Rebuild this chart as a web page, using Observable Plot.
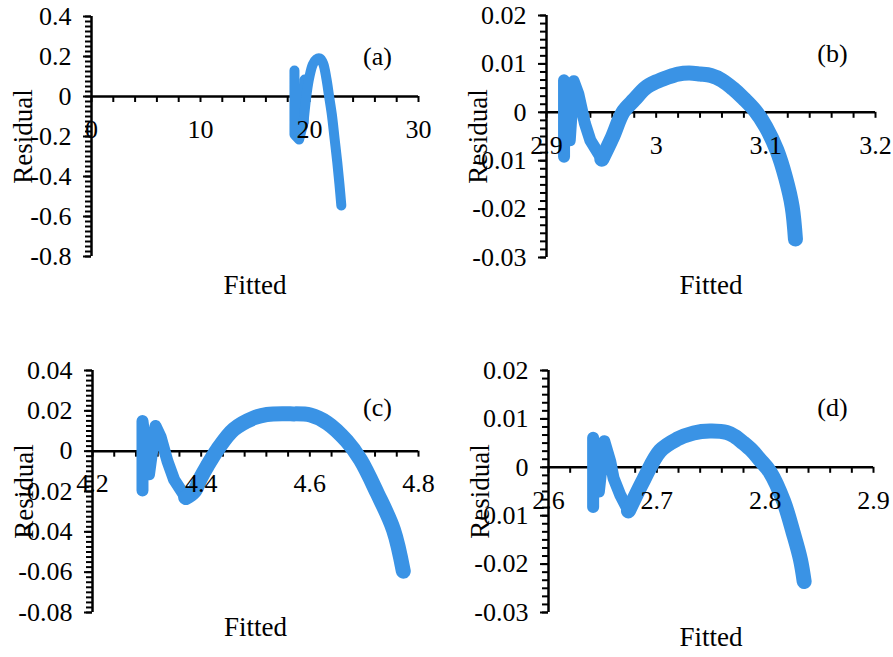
<!DOCTYPE html>
<html>
<head>
<meta charset="utf-8">
<script src="https://cdn.jsdelivr.net/npm/d3@7"></script>
<script src="https://cdn.jsdelivr.net/npm/@observablehq/plot@0.6"></script>
<style>
  html, body { margin: 0; padding: 0; background: #fff; }
  #wrap { position: relative; width: 893px; height: 657px; overflow: hidden; background: #fff; }
  #wrap svg { position: absolute; }
</style>
</head>
<body>
<div id="wrap"></div>
<script>
// ---------- data ----------
// Panel (a)
const aTicksX = [0, 10, 20, 30];
const aLabelsX = ["0", "10", "20", "30"];
const aTicksY = [0.4, 0.2, 0, -0.2, -0.4, -0.6, -0.8];
const aLabelsY = ["0.4", "0.2", "0", "-0.2", "-0.4", "-0.6", "-0.8"];
const aSpikeX = [18.62, 18.62, 19.05, 19.45, 19.55];
const aSpikeY = [0.13, -0.19, -0.215, -0.13, 0.085];
const aCurveX = [19.45, 19.75, 20.0, 20.3, 20.6, 20.95, 21.25, 21.55, 21.8, 22.05, 22.3, 22.55, 22.75, 22.92];
const aCurveY = [-0.13, 0.02, 0.10, 0.16, 0.185, 0.19, 0.165, 0.09, 0.0, -0.09, -0.21, -0.33, -0.44, -0.545];

// Panel (b): spikes + straight drop to the minimum, then the smooth hump
const bTicksX = [2.9, 3.0, 3.1, 3.2];
const bLabelsX = ["2.9", "3", "3.1", "3.2"];
const bTicksY = [0.02, 0.01, 0, -0.01, -0.02, -0.03];
const bLabelsY = ["0.02", "0.01", "0", "-0.01", "-0.02", "-0.03"];
const bSpikeX = [2.916, 2.916, 2.9212, 2.9248, 2.929, 2.935, 2.940, 2.9505];
const bSpikeY = [-0.0092, 0.0066, -0.0058, 0.0064, 0.0038, -0.0023, -0.0058, -0.0097];
const bCurveX = [2.9505, 2.960, 2.970, 2.980, 2.990, 3.000, 3.010, 3.020, 3.030, 3.040, 3.050, 3.060, 3.070, 3.080, 3.090, 3.100, 3.110, 3.118, 3.124, 3.127];
const bCurveY = [-0.0097, -0.0052, 0.0001, 0.0026, 0.0050, 0.0063, 0.0072, 0.0079, 0.0081, 0.0079, 0.0076, 0.0066, 0.0049, 0.0028, 0.0004, -0.0030, -0.0078, -0.0135, -0.0195, -0.0262];

// Panel (c)
const cTicksX = [4.2, 4.4, 4.6, 4.8];
const cLabelsX = ["4.2", "4.4", "4.6", "4.8"];
const cTicksY = [0.04, 0.02, 0, -0.02, -0.04, -0.06, -0.08];
const cLabelsY = ["0.04", "0.02", "0", "-0.02", "-0.04", "-0.06", "-0.08"];
const cSpikeX = [4.292, 4.292, 4.304, 4.316, 4.3255, 4.338, 4.350, 4.3715];
const cSpikeY = [-0.0195, 0.0150, -0.0115, 0.0125, 0.0070, -0.0050, -0.0140, -0.0230];
const cCurveX = [4.3715, 4.387, 4.399, 4.411, 4.430, 4.460, 4.497, 4.521, 4.564, 4.601, 4.632, 4.668, 4.693, 4.724, 4.754, 4.772];
const cCurveY = [-0.0230, -0.0200, -0.0133, -0.0075, 0.0008, 0.0108, 0.0165, 0.0182, 0.0185, 0.0179, 0.0140, 0.0050, -0.0042, -0.0208, -0.0390, -0.0595];

// Panel (d)
const dTicksX = [2.6, 2.7, 2.8, 2.9];
const dLabelsX = ["2.6", "2.7", "2.8", "2.9"];
const dTicksY = [0.02, 0.01, 0, -0.01, -0.02, -0.03];
const dLabelsY = ["0.02", "0.01", "0", "-0.01", "-0.02", "-0.03"];
const dSpikeX = [2.6412, 2.6412, 2.6465, 2.6515, 2.657, 2.660, 2.666, 2.6738];
const dSpikeY = [-0.0082, 0.0061, -0.0050, 0.0054, 0.0012, -0.0022, -0.0056, -0.0090];
const dCurveX = [2.6738, 2.688, 2.703, 2.7185, 2.734, 2.749, 2.7646, 2.772, 2.780, 2.788, 2.795, 2.8046, 2.817, 2.826, 2.8325, 2.836];
const dCurveY = [-0.0090, -0.0025, 0.0034, 0.0058, 0.0071, 0.0075, 0.0072, 0.0064, 0.0050, 0.0034, 0.0016, -0.0010, -0.0070, -0.0136, -0.0190, -0.0236];

const xTitle = "Fitted";
const yTitle = "Residual";
const tags = ["(a)", "(b)", "(c)", "(d)"];

// ---------- layout / style ----------
const BLUE = "#3a93e5";
const FONT = "'Liberation Serif', 'Times New Roman', serif";

const panels = [
  {tag: tags[0], tx: aTicksX, lx: aLabelsX, ty: aTicksY, ly: aLabelsY, sx: aSpikeX, sy: aSpikeY, cx: aCurveX, cy: aCurveY,
   left: 0, top: 0, width: 446, height: 330, mL: 91, mR: 28, mT: 16, mB: 74,
   xSub: 5, ySub: 8, spikeW: 10, curveW: 10, tagDx: -41, tagDy: 40, fitDy: 29},
  {tag: tags[1], tx: bTicksX, lx: bLabelsX, ty: bTicksY, ly: bLabelsY, sx: bSpikeX, sy: bSpikeY, cx: bCurveX, cy: bCurveY,
   left: 446, top: 0, width: 447, height: 330, mL: 100, mR: 18, mT: 15, mB: 73,
   xSub: 5, ySub: 6, spikeW: 12, curveW: 15, tagDx: -43, tagDy: 38, fitDy: 28},
  {tag: tags[2], tx: cTicksX, lx: cLabelsX, ty: cTicksY, ly: cLabelsY, sx: cSpikeX, sy: cSpikeY, cx: cCurveX, cy: cCurveY,
   left: 0, top: 330, width: 446, height: 327, mL: 92, mR: 28, mT: 40, mB: 45,
   xSub: 5, ySub: 8, spikeW: 12, curveW: 15, tagDx: -41, tagDy: 37, fitDy: 15},
  {tag: tags[3], tx: dTicksX, lx: dLabelsX, ty: dTicksY, ly: dLabelsY, sx: dSpikeX, sy: dSpikeY, cx: dCurveX, cy: dCurveY,
   left: 446, top: 330, width: 447, height: 327, mL: 102, mR: 20, mT: 40, mB: 45,
   xSub: 5, ySub: 6, spikeW: 12, curveW: 15, tagDx: -41, tagDy: 37, fitDy: 25}
];

function subTicks(ticks, sub) {
  const lo = d3.min(ticks), hi = d3.max(ticks);
  const n = (ticks.length - 1) * sub;
  return d3.range(n + 1).map(i => lo + (hi - lo) * i / n);
}

function makePanel(p) {
  const xmin = d3.min(p.tx), xmax = d3.max(p.tx);
  const ymin = d3.min(p.ty), ymax = d3.max(p.ty);
  const xMinor = subTicks(p.tx, p.xSub);
  const yMinor = subTicks(p.ty, p.ySub);
  const spike = p.sx.map((x, i) => ({x, y: p.sy[i]}));
  const curve = p.cx.map((x, i) => ({x, y: p.cy[i]}));
  const svg = Plot.plot({
    width: p.width, height: p.height,
    marginLeft: p.mL, marginRight: p.mR, marginTop: p.mT, marginBottom: p.mB,
    x: {type: "linear", domain: [xmin, xmax], axis: null},
    y: {type: "linear", domain: [ymin, ymax], axis: null},
    style: {fontFamily: FONT, background: "transparent", overflow: "visible", color: "black"},
    marks: [
      // axis lines and ticks
      Plot.ruleY([0], {y: d => d, stroke: "black", strokeWidth: 2.5}),
      Plot.ruleX([xmin], {x: d => d, stroke: "black", strokeWidth: 2.5}),
      Plot.ruleX(xMinor, {x: d => d, y1: 0, y2: 0, insetTop: 0, insetBottom: -6, stroke: "black", strokeWidth: 2}),
      Plot.ruleY(yMinor, {y: d => d, x1: xmin, x2: xmin, insetLeft: -6, insetRight: 0, stroke: "black", strokeWidth: 2}),
      Plot.ruleY(p.ty, {y: d => d, x1: xmin, x2: xmin, insetLeft: -8, insetRight: 0, stroke: "black", strokeWidth: 2}),
      // data
      Plot.line(spike, {x: "x", y: "y", stroke: BLUE, strokeWidth: p.spikeW, strokeLinecap: "round", strokeLinejoin: "round"}),
      Plot.line(curve, {x: "x", y: "y", curve: "catmull-rom", stroke: BLUE, strokeWidth: p.curveW, strokeLinecap: "round", strokeLinejoin: "round"}),
      // tick labels
      Plot.text(p.ty, {x: xmin, y: d => d, text: (d, i) => p.ly[i], dx: -20, textAnchor: "end", lineAnchor: "middle", fontSize: 26, fill: "black"}),
      Plot.text(p.tx, {x: d => d, y: 0, text: (d, i) => p.lx[i], dy: 33, textAnchor: "middle", lineAnchor: "middle", fontSize: 26, fill: "black"}),
      // titles
      Plot.text([p.tag], {text: d => d, frameAnchor: "top-right", dx: p.tagDx, dy: p.tagDy, textAnchor: "middle", lineAnchor: "middle", fontSize: 26, fill: "black"}),
      Plot.text([xTitle], {text: d => d, frameAnchor: "bottom", dy: p.fitDy, textAnchor: "middle", lineAnchor: "middle", fontSize: 27, fill: "black"}),
      Plot.text([yTitle], {text: d => d, frameAnchor: "left", dx: -68, rotate: -90, textAnchor: "middle", lineAnchor: "middle", fontSize: 27, fill: "black"})
    ]
  });
  svg.style.position = "absolute";
  svg.style.left = p.left + "px";
  svg.style.top = p.top + "px";
  return svg;
}

const wrap = document.getElementById("wrap");
for (const p of panels) wrap.appendChild(makePanel(p));
</script>
</body>
</html>
